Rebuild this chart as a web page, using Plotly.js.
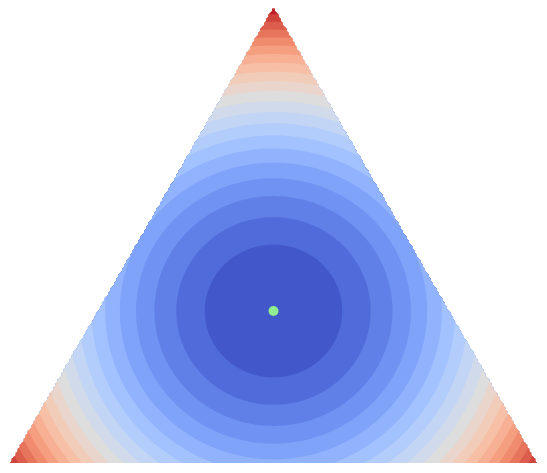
<!DOCTYPE html>
<html>
<head>
<meta charset="utf-8">
<script src="https://cdn.plot.ly/plotly-3.0.1.min.js"></script>
<style>
  body {margin: 0; background: #fff;}
  #myPlot {width: 547px; height: 473px;}
</style>
</head>
<body>
<div id="myPlot"></div>
<script>
// Triangle corners in plot units: left, right, top
var cornerX = [0, 1, 0.5]
var cornerY = [0, 0, Math.sqrt(3) / 2]

// The marked point, ternary coordinates (a, b, c)
var pointABC = [1/3, 1/3, 1/3]

// Contour levels (squared distance from the centre, 1 = at the top corner)
var nBands = 21
var levelStart = 1/21
var levelEnd = 20/21
var levelSize = 1/21
// rings come out a little wider than tall in the picture
var stretchX = 1.035

// coolwarm colour table
var coolwarmStops = [0, 0.03125, 0.0625, 0.09375, 0.125, 0.15625, 0.1875, 0.21875, 0.25,
  0.28125, 0.3125, 0.34375, 0.375, 0.40625, 0.4375, 0.46875, 0.5, 0.53125, 0.5625, 0.59375,
  0.625, 0.65625, 0.6875, 0.71875, 0.75, 0.78125, 0.8125, 0.84375, 0.875, 0.90625, 0.9375,
  0.96875, 1]
var coolwarmRGB = [[59,76,192], [68,90,204], [77,104,215], [87,117,225], [98,130,234],
  [108,142,241], [119,154,247], [130,165,251], [141,176,254], [152,185,255], [163,194,255],
  [174,201,253], [184,208,249], [194,213,244], [204,217,238], [213,219,230], [221,221,221],
  [229,216,209], [236,211,197], [241,204,185], [245,196,173], [247,187,160], [247,177,148],
  [247,166,135], [244,154,123], [241,141,111], [236,127,99], [229,112,88], [222,96,77],
  [213,80,66], [203,62,56], [192,40,47], [180,4,38]]

function coolwarm(t) {
  for (var k = 1; k < coolwarmStops.length; k++) {
    if (t <= coolwarmStops[k]) {
      var f = (t - coolwarmStops[k-1]) / (coolwarmStops[k] - coolwarmStops[k-1])
      var c = coolwarmRGB[k-1].map(function (v, n) { return Math.round(v + f * (coolwarmRGB[k][n] - v)) })
      return 'rgb(' + c.join(',') + ')'
    }
  }
  return 'rgb(' + coolwarmRGB[coolwarmRGB.length-1].join(',') + ')'
}

function toXY(abc) {
  var s = abc[0] + abc[1] + abc[2]
  var x = (abc[0] * cornerX[0] + abc[1] * cornerX[1] + abc[2] * cornerX[2]) / s
  var y = (abc[0] * cornerY[0] + abc[1] * cornerY[1] + abc[2] * cornerY[2]) / s
  return [x, y]
}

function graphFunction() {
  var centre = toXY(pointABC)
  var top = cornerY[2]
  // squared distance centre -> top corner
  var r2 = Math.pow(cornerX[2] - centre[0], 2) + Math.pow(cornerY[2] - centre[1], 2)

  // Grid for the contour, empty outside the triangle
  var nx = 264
  var ny = 229
  var xs = []
  var ys = []
  var z = []
  for (var i = 0; i < nx; i++) xs.push(i / (nx - 1))
  for (var j = 0; j < ny; j++) ys.push(j * top / (ny - 1))
  var eps = 0.002
  for (var j = 0; j < ny; j++) {
    var row = []
    for (var i = 0; i < nx; i++) {
      var x = xs[i], y = ys[j]
      var inside = y <= Math.sqrt(3) * x + eps && y <= Math.sqrt(3) * (1 - x) + eps
      if (inside) {
        row.push((Math.pow((x - centre[0]) / stretchX, 2) + Math.pow(y - centre[1], 2)) / r2)
      } else {
        row.push(null)
      }
    }
    z.push(row)
  }

  // one colour per band, taken at the middle of the band
  var scale = []
  for (var b = 0; b < nBands; b++) {
    scale.push([b / (nBands - 1), coolwarm((b + 0.5) / nBands)])
  }

  var data = [
    {type: 'contour', x: xs, y: ys, z: z, connectgaps: false,
      colorscale: scale, showscale: false,
      contours: {coloring: 'fill', showlines: false, start: levelStart, end: levelEnd, size: levelSize},
      line: {width: 0}, hoverinfo: 'skip'},

    {type: 'scatter', x: [centre[0]], y: [centre[1]], mode: 'markers',
      marker: {color: 'rgb(144,238,144)', size: 10}, hoverinfo: 'skip'}
  ]

  var layout = {
    width: 547, height: 473,
    margin: {l: 10, r: 10, t: 7, b: 10},
    paper_bgcolor: '#fff', plot_bgcolor: '#fff',
    showlegend: false,
    xaxis: {range: [0, 1], visible: false, fixedrange: true},
    yaxis: {range: [0, top], visible: false, fixedrange: true}
  }

  Plotly.newPlot('myPlot', data, layout, {displayModeBar: false, staticPlot: true})
}

graphFunction()
</script>
</body>
</html>
